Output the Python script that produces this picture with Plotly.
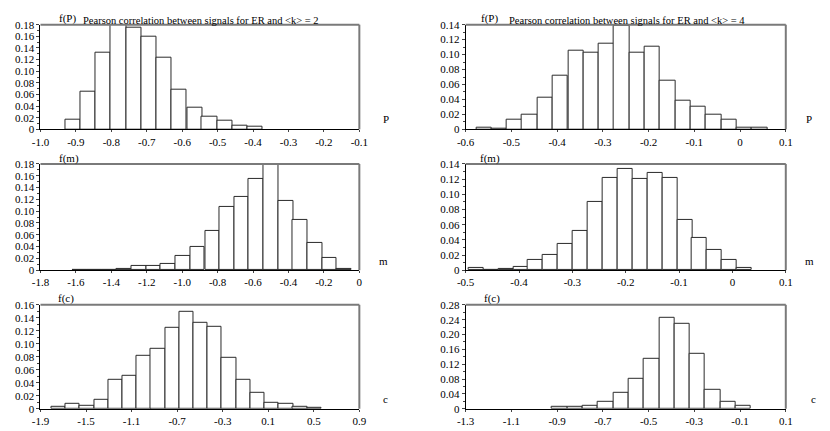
import plotly.graph_objects as go
from plotly.subplots import make_subplots

# bin centres and relative frequencies
p2_centers = [-0.909, -0.866, -0.823, -0.780, -0.737, -0.694, -0.651,
              -0.608, -0.565, -0.523, -0.480, -0.437, -0.394]
p2_freq = [0.016, 0.064, 0.132, 0.182, 0.175, 0.160, 0.123,
           0.068, 0.037, 0.022, 0.0145, 0.007, 0.004]

p4_centers = [-0.560, -0.527, -0.493, -0.460, -0.426, -0.393, -0.359,
              -0.326, -0.292, -0.259, -0.225, -0.192, -0.158, -0.125,
              -0.091, -0.058, -0.024, 0.009, 0.043]
p4_freq = [0.002, 0.001, 0.013, 0.019, 0.042, 0.072, 0.105,
           0.103, 0.115, 0.138, 0.103, 0.111, 0.065, 0.038,
           0.030, 0.020, 0.013, 0.002, 0.002]

m2_centers = [-1.576, -1.493, -1.410, -1.327, -1.244, -1.162, -1.079,
              -0.996, -0.913, -0.830, -0.748, -0.665, -0.582, -0.499,
              -0.416, -0.334, -0.251, -0.168, -0.085]
m2_freq = [0.001, 0.0, 0.0, 0.002, 0.007, 0.008, 0.010,
           0.025, 0.040, 0.067, 0.107, 0.124, 0.154, 0.179,
           0.118, 0.086, 0.047, 0.021, 0.003]

m4_centers = [-0.480, -0.452, -0.424, -0.396, -0.369, -0.341, -0.313,
              -0.285, -0.257, -0.229, -0.201, -0.173, -0.145, -0.117,
              -0.089, -0.062, -0.034, -0.006, 0.022]
m4_freq = [0.003, 0.001, 0.002, 0.005, 0.014, 0.020, 0.035,
           0.052, 0.090, 0.121, 0.134, 0.120, 0.128, 0.122,
           0.066, 0.042, 0.027, 0.013, 0.003]

c2_centers = [-1.741, -1.616, -1.491, -1.367, -1.242, -1.117, -0.992,
              -0.868, -0.743, -0.618, -0.494, -0.369, -0.244, -0.120,
              0.005, 0.130, 0.255, 0.379, 0.504]
c2_freq = [0.003, 0.008, 0.005, 0.014, 0.045, 0.050, 0.082,
           0.092, 0.125, 0.149, 0.132, 0.126, 0.079, 0.045,
           0.025, 0.0095, 0.0075, 0.0035, 0.001]

c4_centers = [-0.889, -0.822, -0.755, -0.688, -0.621, -0.554, -0.487,
              -0.420, -0.353, -0.287, -0.220, -0.153, -0.086]
c4_freq = [0.006, 0.006, 0.009, 0.0175, 0.043, 0.082, 0.134,
           0.245, 0.230, 0.147, 0.051, 0.0175, 0.009]

# tick labels
p2_xticks = ["-1.0", "-0.9", "-0.8", "-0.7", "-0.6", "-0.5", "-0.4", "-0.3", "-0.2", "-0.1"]
p4_xticks = ["-0.6", "-0.5", "-0.4", "-0.3", "-0.2", "-0.1", "0", "0.1"]
m2_xticks = ["-1.8", "-1.6", "-1.4", "-1.2", "-1.0", "-0.8", "-0.6", "-0.4", "-0.2", "0"]
m4_xticks = ["-0.5", "-0.4", "-0.3", "-0.2", "-0.1", "0", "0.1"]
c2_xticks = ["-1.9", "-1.5", "-1.1", "-0.7", "-0.3", "0.1", "0.5", "0.9"]
c4_xticks = ["-1.3", "-1.1", "-0.9", "-0.7", "-0.5", "-0.3", "-0.1", "0.1"]

y18_ticks = ["0", "0.02", "0.04", "0.06", "0.08", "0.10", "0.12", "0.14", "0.16", "0.18"]
y14_ticks = ["0", "0.02", "0.04", "0.06", "0.08", "0.10", "0.12", "0.14"]
y16_ticks = ["0", "0.02", "0.04", "0.06", "0.08", "0.10", "0.12", "0.14", "0.16"]
y28_ticks = ["0", "0.04", "0.08", "0.12", "0.16", "0.20", "0.24", "0.28"]

title_k2 = "Pearson correlation between signals for ER and &lt;k&gt; = 2"
title_k4 = "Pearson correlation between signals for ER and &lt;k&gt; = 4"

# the page body has an 8px margin, so lay out in window pixels minus that
OFF = 8
W, H = 830 - OFF, 431 - OFF
FONT = "Liberation Serif"


def px(x):
    return (x - OFF) / W


def py(y):
    return 1 - (y - OFF) / H


panels = [
    # centers, freq, bin width, xticks, yticks, row, col, ylabel, xlabel
    (p2_centers, p2_freq, 0.0429, p2_xticks, y18_ticks, 1, 1, "f(P)", "P"),
    (p4_centers, p4_freq, 0.0335, p4_xticks, y14_ticks, 1, 2, "f(P)", "P"),
    (m2_centers, m2_freq, 0.0828, m2_xticks, y18_ticks, 2, 1, "f(m)", "m"),
    (m4_centers, m4_freq, 0.0279, m4_xticks, y14_ticks, 2, 2, "f(m)", "m"),
    (c2_centers, c2_freq, 0.1247, c2_xticks, y16_ticks, 3, 1, "f(c)", "c"),
    (c4_centers, c4_freq, 0.0669, c4_xticks, y28_ticks, 3, 2, "f(c)", "c"),
]

# window-pixel boxes of the plot areas and label spots
col_px = {1: (32, 358), 2: (466.7, 794)}
row_px = {1: (19, 126.7), 2: (162.3, 271.7), 3: (307.3, 414.3)}
ylab_pos = [(60, 13), (491, 13), (61, 157), (492, 157), (58, 301), (494, 301)]
xlab_pos = [(385, 116), (818, 116), (383, 262), (818, 262), (385, 404), (822, 404)]

fig = make_subplots(rows=3, cols=2)
txt = dict(family=FONT, size=11, color="black")

for i, (xs, ys, bw, xt, yt, r, c, ylab, xlab) in enumerate(panels):
    fig.add_trace(
        go.Bar(
            x=xs, y=ys, width=bw,
            marker=dict(color="white", line=dict(color="#2a2a2a", width=1)),
            showlegend=False, hoverinfo="x+y",
        ),
        row=r, col=c,
    )
    xvals = [float(v) for v in xt]
    yvals = [float(v) for v in yt]
    x0, x1 = col_px[c]
    y0, y1 = row_px[r]
    fig.update_xaxes(
        domain=[px(x0), px(x1)], range=[xvals[0], xvals[-1]],
        tickvals=xvals, ticktext=xt, ticks="outside", ticklen=2,
        tickcolor="#444", showline=True, linecolor="black", linewidth=1,
        showgrid=False, zeroline=False, tickfont=txt,
        row=r, col=c,
    )
    ystep = yvals[1] - yvals[0]
    fig.update_yaxes(
        domain=[py(y1), py(y0)], range=[0, yvals[-1]],
        tickvals=yvals, ticktext=yt, ticks="outside", ticklen=3,
        tickcolor="#444", showline=True, linecolor="black", linewidth=1,
        showgrid=False, zeroline=False,
        minor=dict(ticks="outside", ticklen=2, tickcolor="#444", dtick=ystep / 2),
        tickfont=txt,
        row=r, col=c,
    )
    # grey top and right frame
    xr = "x" if i == 0 else f"x{i + 1}"
    yr = "y" if i == 0 else f"y{i + 1}"
    fig.add_shape(type="line", xref=f"{xr} domain", yref=f"{yr} domain",
                  x0=0, x1=1, y0=1, y1=1, line=dict(color="#7a7a7a", width=2))
    fig.add_shape(type="line", xref=f"{xr} domain", yref=f"{yr} domain",
                  x0=1, x1=1, y0=0, y1=1, line=dict(color="#7a7a7a", width=2))

    lx, ly = ylab_pos[i]
    fig.add_annotation(text=ylab, xref="paper", yref="paper", x=px(lx), y=py(ly),
                       xanchor="center", yanchor="middle", showarrow=False, font=txt)
    lx, ly = xlab_pos[i]
    fig.add_annotation(text=xlab, xref="paper", yref="paper", x=px(lx), y=py(ly),
                       xanchor="center", yanchor="middle", showarrow=False, font=txt)

for t, cx in [(title_k2, 196), (title_k4, 632)]:
    fig.add_annotation(text=t, xref="paper", yref="paper", x=px(cx), y=1,
                       xanchor="center", yanchor="top", borderpad=0,
                       showarrow=False, font=dict(family=FONT, size=10.5, color="black"))

fig.update_layout(
    width=W, height=H,
    margin=dict(l=0, r=0, t=0, b=0),
    paper_bgcolor="white", plot_bgcolor="white",
    bargap=0,
    font=txt,
)

fig.write_html("out.html")
